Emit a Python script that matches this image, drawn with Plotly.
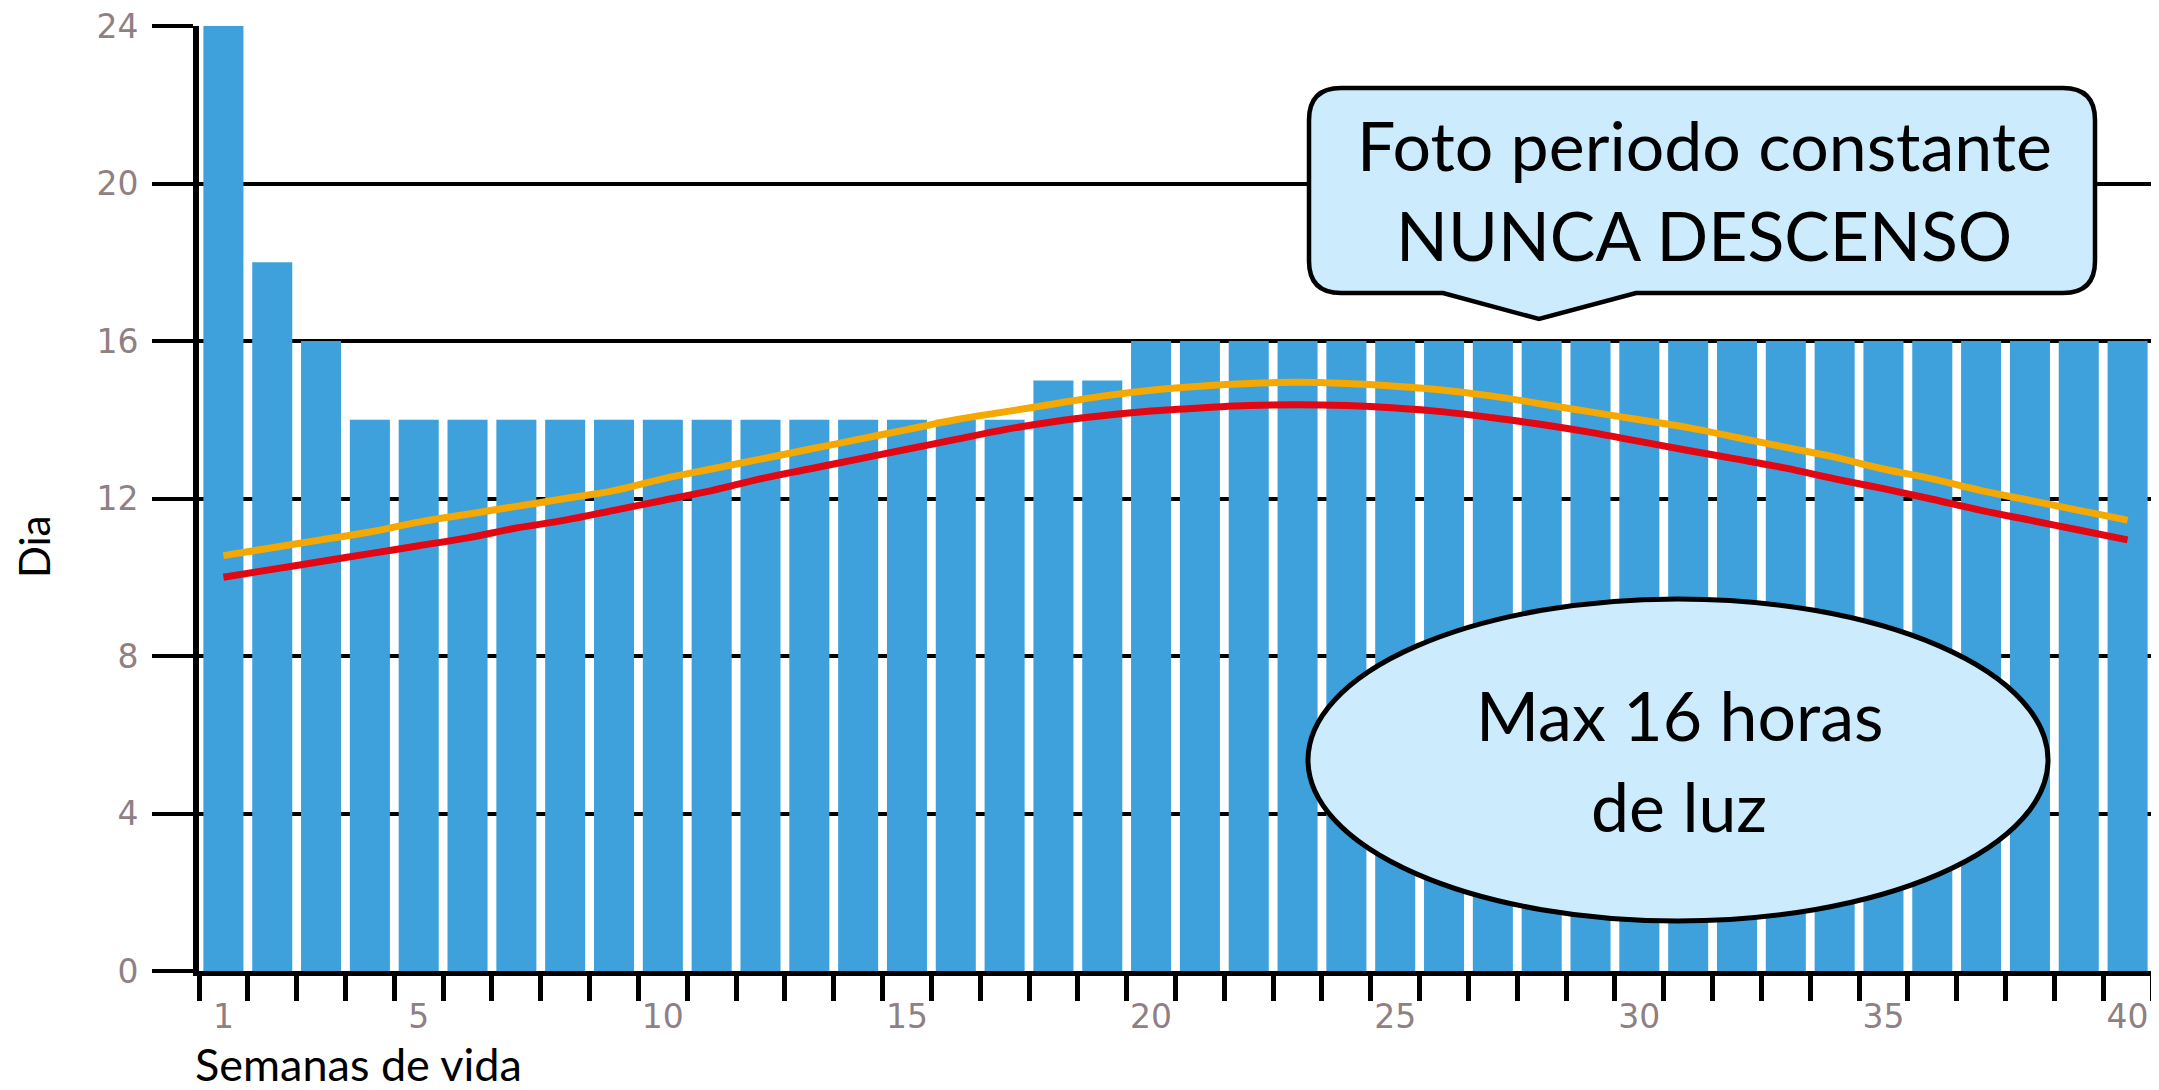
import plotly.graph_objects as go

# ---------------- data ----------------
weeks = list(range(1, 41))
light_hours = [24, 18, 16, 14, 14, 14, 14, 14, 14, 14,
               14, 14, 14, 14, 14, 14, 14, 15, 15, 16,
               16, 16, 16, 16, 16, 16, 16, 16, 16, 16,
               16, 16, 16, 16, 16, 16, 16, 16, 16, 16]
orange_curve = [10.55, 10.75, 10.95, 11.15, 11.4, 11.6, 11.8, 12.0, 12.2, 12.5,
                12.75, 13.0, 13.25, 13.5, 13.75, 14.0, 14.2, 14.4, 14.6, 14.75,
                14.85, 14.92, 14.95, 14.92, 14.85, 14.75, 14.6, 14.4, 14.2, 14.0,
                13.8, 13.55, 13.3, 13.05, 12.75, 12.5, 12.2, 11.95, 11.7, 11.45]
red_curve = [10.0, 10.2, 10.4, 10.6, 10.8, 11.0, 11.25, 11.45, 11.7, 11.95,
             12.2, 12.5, 12.75, 13.0, 13.25, 13.5, 13.75, 13.95, 14.1, 14.22,
             14.3, 14.36, 14.38, 14.36, 14.3, 14.2, 14.05, 13.88, 13.68, 13.45,
             13.22, 13.0, 12.77, 12.5, 12.25, 11.98, 11.7, 11.45, 11.2, 10.95]
x_tick_vals = [1, 5, 10, 15, 20, 25, 30, 35, 40]
x_tick_text = ["1", "5", "10", "15", "20", "25", "30", "35", "40"]
y_tick_vals = [0, 4, 8, 12, 16, 20, 24]
y_tick_text = ["0", "4", "8", "12", "16", "20", "24"]

# ---------------- layout geometry ----------------
# the page body has an 8 px margin, so the figure is 8 px smaller and shifted
OFF = 8
W, H = 2159 - OFF, 1090 - OFF
L, R, T, B = 199 - OFF, 7, 26 - OFF, 119
PW, PH = W - L - R, H - T - B


def px(x):
    """reference pixel x -> paper coordinate"""
    return (x - OFF - L) / PW


def py(y):
    """reference pixel y -> paper coordinate"""
    return (H - B - (y - OFF)) / PH


BAR_COLOR = "#3FA1DB"
ORANGE = "#F5A800"
RED = "#E30613"
BUBBLE = "#CCEBFC"
TICK_FONT = dict(family="DejaVu Sans", size=33, color="#8f8083")
TEXT_FONT = "Lato"

fig = go.Figure()
fig.add_trace(go.Bar(x=weeks, y=light_hours, width=0.82,
                     marker=dict(color=BAR_COLOR, line=dict(width=0)),
                     showlegend=False))
fig.add_trace(go.Scatter(x=weeks, y=orange_curve, mode="lines",
                         line=dict(color=ORANGE, width=7, shape="spline"),
                         showlegend=False))
fig.add_trace(go.Scatter(x=weeks, y=red_curve, mode="lines",
                         line=dict(color=RED, width=7, shape="spline"),
                         showlegend=False))

# callout bubble (rounded rectangle with pointer)
bx0, bx1, by0, by1 = px(1309), px(2095), py(293), py(88)
rx, ry = 32 / PW, 32 / PH
pl, pr, tipx, tipy = px(1443), px(1636), px(1539), py(319)
path = (f"M {bx0+rx},{by1} L {bx1-rx},{by1} Q {bx1},{by1} {bx1},{by1-ry} "
        f"L {bx1},{by0+ry} Q {bx1},{by0} {bx1-rx},{by0} "
        f"L {pr},{by0} L {tipx},{tipy} L {pl},{by0} "
        f"L {bx0+rx},{by0} Q {bx0},{by0} {bx0},{by0+ry} "
        f"L {bx0},{by1-ry} Q {bx0},{by1} {bx0+rx},{by1} Z")

shapes = [
    dict(type="path", path=path, xref="paper", yref="paper",
         fillcolor=BUBBLE, line=dict(color="black", width=4.5), layer="above"),
    dict(type="circle", xref="paper", yref="paper",
         x0=px(1308), x1=px(2048), y0=py(921), y1=py(599),
         fillcolor=BUBBLE, line=dict(color="black", width=5), layer="above"),
]

BIG = dict(family=TEXT_FONT, size=68, color="black")
annotations = [
    dict(text="Foto periodo constante", x=px(1704), y=py(145), xref="paper", yref="paper",
         showarrow=False, xanchor="center", yanchor="middle", font=BIG),
    dict(text="NUNCA DESCENSO", x=px(1704), y=py(234), xref="paper", yref="paper",
         showarrow=False, xanchor="center", yanchor="middle", font=BIG),
    dict(text="Max 16 horas", x=px(1679), y=py(714), xref="paper", yref="paper",
         showarrow=False, xanchor="center", yanchor="middle", font=BIG),
    dict(text="de luz", x=px(1679), y=py(805), xref="paper", yref="paper",
         showarrow=False, xanchor="center", yanchor="middle", font=BIG),
    dict(text="Dia", x=px(34), y=py(547), xref="paper", yref="paper",
         showarrow=False, xanchor="center", yanchor="middle", textangle=-90,
         font=dict(family=TEXT_FONT, size=42, color="black")),
    dict(text="Semanas de vida", x=px(193), y=py(1064), xref="paper", yref="paper",
         showarrow=False, xanchor="left", yanchor="middle",
         font=dict(family=TEXT_FONT, size=45, color="black")),
]

fig.update_layout(
    width=W, height=H,
    margin=dict(l=L, r=R, t=T, b=B, pad=0, autoexpand=False),
    paper_bgcolor="white", plot_bgcolor="white",
    shapes=shapes, annotations=annotations,
    xaxis=dict(range=[0.5, 40.5], tickmode="array", tickvals=x_tick_vals, ticktext=x_tick_text,
               ticks="outside", ticklen=12, tickwidth=5, tickcolor="rgba(0,0,0,0)",
               ticklabelstandoff=0, automargin=False,
               minor=dict(tickmode="array", tickvals=[w - 0.5 for w in weeks] + [40.5],
                          ticks="outside", ticklen=25, tickwidth=5, tickcolor="black"),
               showgrid=False, zeroline=False,
               showline=True, linecolor="black", linewidth=5,
               tickfont=TICK_FONT, fixedrange=True),
    yaxis=dict(range=[0, 24], tickmode="array", tickvals=y_tick_vals, ticktext=y_tick_text,
               ticks="outside", ticklen=41, tickwidth=4, tickcolor="black",
               ticklabelstandoff=7, ticklabeloverflow="allow", automargin=False,
               showgrid=True, gridcolor="black", gridwidth=4,
               zeroline=False, showline=True, linecolor="black", linewidth=6, mirror=True,
               tickfont=TICK_FONT, fixedrange=True),
)

fig.write_html("out.html")
